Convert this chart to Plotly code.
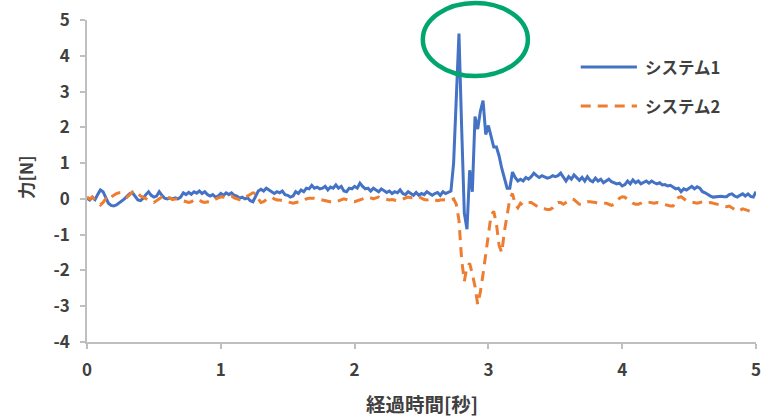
import numpy as np
import plotly.graph_objects as go

# Sampling interval of the force log [s]
DT = 0.02

# System 1 force [N], sampled every 0.02 s from 0.00 s
sys1_base = [
    0.02, -0.03, 0.05, -0.02, 0.12, 0.25, 0.2, 0.02, -0.12, -0.18,
    -0.2, -0.17, -0.12, -0.05, 0.0, 0.08, 0.15, 0.17, 0.05, -0.03,
    -0.05, 0.02, 0.12, 0.2, 0.1, 0.05, 0.08, 0.2, 0.1, 0.02,
    0.0, 0.02, 0.0, 0.03, 0.0, 0.05, 0.17, 0.12, 0.18, 0.13,
    0.2, 0.16, 0.22, 0.15, 0.2, 0.12, 0.08, 0.12, 0.05, 0.08,
    0.15, 0.1, 0.17, 0.12, 0.17, 0.1, 0.08, 0.02, 0.05, 0.0,
    0.03, -0.05, -0.08, 0.05, 0.22, 0.27, 0.22, 0.3, 0.25, 0.2,
    0.15, 0.2, 0.17, 0.22, 0.12, 0.1, 0.05, 0.08, 0.2, 0.15,
    0.25, 0.2, 0.3, 0.28, 0.38, 0.3, 0.33, 0.28, 0.3, 0.35,
    0.25, 0.33, 0.3, 0.39, 0.3, 0.35, 0.22, 0.2, 0.3, 0.28,
    0.35, 0.3, 0.44, 0.35, 0.28, 0.3, 0.22, 0.3, 0.25, 0.2,
    0.28, 0.22, 0.18, 0.22, 0.15, 0.2, 0.17, 0.25, 0.15, 0.12,
    0.2, 0.15, 0.1, 0.18, 0.1, 0.15, 0.12, 0.2, 0.15, 0.1,
    0.15, 0.18, 0.1, 0.2, 0.15, 0.18,
]
sys1_impact = [
    0.22, 1.0, 3.0, 4.62, 2.0, -0.4, -0.85, 0.8, 0.2, 2.3,
    1.95, 2.45, 2.75, 1.8, 2.05, 1.75, 1.45, 1.45, 1.2, 0.85,
    0.6, 0.3, 0.3, 0.75, 0.6, 0.5,
]
sys1_tail = [
    0.55, 0.5, 0.6, 0.55, 0.62, 0.72, 0.65, 0.6, 0.65, 0.62,
    0.58, 0.6, 0.65, 0.62, 0.65, 0.72, 0.6, 0.5, 0.62, 0.55,
    0.67, 0.58, 0.52, 0.6, 0.5, 0.62, 0.52, 0.48, 0.58, 0.5,
    0.55, 0.45, 0.5, 0.55, 0.48, 0.45, 0.42, 0.44,
    0.36, 0.4, 0.5, 0.42, 0.53, 0.45, 0.5, 0.42, 0.46, 0.5,
    0.44, 0.5, 0.45, 0.42, 0.45, 0.39, 0.4, 0.36, 0.38, 0.34,
    0.28, 0.3, 0.2, 0.28, 0.25, 0.3, 0.35, 0.28, 0.34, 0.3,
    0.2, 0.17, 0.12, 0.08, 0.05, 0.06, 0.05, 0.07, 0.06, 0.06,
    0.12, 0.14, 0.08, 0.05, 0.1, 0.14, 0.08, 0.14, 0.07, 0.05,
    0.2,
]

# System 2 force [N], same sampling
sys2_base = [
    0.05, 0.0, 0.05, -0.05, -0.12, -0.17, -0.1, 0.0, -0.05, 0.05,
    0.1, 0.15, 0.17, 0.17, 0.1, 0.05, 0.12, 0.2, 0.23, 0.15,
    0.08, 0.05, 0.0, -0.05, -0.08, -0.1, -0.05, 0.02, 0.05, 0.0,
    0.05, 0.02, -0.02, 0.0, 0.0, -0.03, -0.05, -0.08, -0.1, -0.08,
    -0.03, -0.05, -0.03, -0.08, -0.1, -0.08, -0.1, -0.05, 0.0, 0.03,
    0.05, 0.05, 0.02, 0.05, 0.08, 0.03, 0.0, -0.02, 0.0, 0.02,
    0.08, 0.12, 0.17, 0.15, 0.0, -0.1, -0.08, -0.02, 0.02, 0.05,
    0.0, -0.03, -0.03, -0.05, -0.08, -0.1, -0.12, -0.12, -0.1, -0.1,
    -0.08, -0.05, 0.0, 0.02, 0.03, 0.02, 0.0, -0.02, -0.03, -0.05,
    -0.08, -0.1, -0.1, -0.08, -0.05, -0.02, 0.0, -0.02, -0.05, -0.08,
    -0.08, -0.05, -0.02, 0.0, 0.02, 0.05, 0.03, 0.0, 0.03, 0.05,
    0.02, 0.0, -0.02, -0.03, -0.02, -0.03, -0.05, -0.03, 0.0, 0.02,
    0.05, 0.03, 0.05, 0.03, 0.05, 0.02, -0.02, -0.03, -0.02, 0.0,
    -0.03, -0.05, -0.03, -0.02, -0.03, -0.02, -0.03,
]
sys2_impact = [
    0.0, -0.15, -0.6, -1.7, -2.3, -1.9, -1.8, -2.1, -2.45, -2.95,
    -2.6, -2.1, -1.5, -0.9, -0.45, -0.35, -0.7, -1.3, -1.5, -0.9,
    -0.45, 0.0, 0.15, -0.15, -0.25,
]
sys2_tail = [
    -0.12, -0.18, -0.15, -0.1, -0.1, -0.15, -0.2, -0.25, -0.25, -0.28,
    -0.3, -0.3, -0.25, -0.15, -0.1, -0.1, -0.15, -0.1, -0.05, 0.0,
    -0.02, -0.1, -0.15, -0.15, -0.12, -0.08, -0.08, -0.08, -0.1, -0.12,
    -0.12, -0.1, -0.12, -0.15, -0.18, -0.15, -0.05, 0.02,
    0.06, 0.05, -0.02, -0.08, -0.12, -0.15, -0.15, -0.12, -0.08, -0.08,
    -0.1, -0.1, -0.12, -0.1, -0.12, -0.15, -0.15, -0.18, -0.2, -0.2,
    -0.08, 0.04, 0.06, 0.0, -0.05, -0.08, -0.1, -0.1, -0.12, -0.1,
    -0.08, -0.1, -0.12, -0.1, -0.12, -0.15, -0.18, -0.18, -0.2, -0.22,
    -0.2, -0.25, -0.3, -0.35, -0.32, -0.28, -0.3, -0.32, -0.35, -0.38,
    -0.35,
]

series_names = ["システム1", "システム2"]
x_ticks = [0, 1, 2, 3, 4, 5]
y_ticks = [-4, -3, -2, -1, 0, 1, 2, 3, 4, 5]
y_tick_labels = ["-4", "-3", "-2", "-1", "0", "1", "2", "3", "4", "5"]

sys1 = sys1_base + sys1_impact + sys1_tail
sys2 = sys2_base + sys2_impact + sys2_tail
t1 = np.arange(len(sys1)) * DT
t2 = np.arange(len(sys2)) * DT

BLUE = "#4472C4"
ORANGE = "#ED7D31"
TEXT = "#404040"
AXIS = "#BFBFBF"
FONT = "Noto Sans CJK JP"
WEIGHT = 700

fig = go.Figure()
fig.add_trace(go.Scatter(x=t1, y=sys1, mode="lines", name=series_names[0],
                         line=dict(color=BLUE, width=3)))
fig.add_trace(go.Scatter(x=t2, y=sys2, mode="lines", name=series_names[1],
                         line=dict(color=ORANGE, width=3, dash="10px,7px")))

axis_common = dict(showgrid=False, zeroline=False, showline=True,
                   linecolor=AXIS, linewidth=1.5, ticks="outside",
                   ticklen=5, tickwidth=1.5, tickcolor=AXIS,
                   ticklabelstandoff=7, automargin=False,
                   tickfont=dict(family=FONT, size=17, color=TEXT,
                                 weight=WEIGHT))

fig.update_xaxes(range=[0, 5], tickvals=x_ticks, **axis_common)
fig.update_yaxes(range=[-4, 5], tickvals=y_ticks, ticktext=y_tick_labels,
                 **axis_common)

# Highlight around the impact peak
fig.add_shape(type="circle", xref="paper", yref="paper",
              x0=0.502, x1=0.659, y0=0.826, y1=1.053,
              line=dict(color="#00A66E", width=4.5))

# Legend drawn by hand (long sample lines)
legend_rows = [(series_names[0], BLUE, "solid", 0.854),
               (series_names[1], ORANGE, "10px,7px", 0.733)]
for name, color, dash, yy in legend_rows:
    fig.add_shape(type="line", xref="paper", yref="paper",
                  x0=0.738, x1=0.822, y0=yy, y1=yy,
                  line=dict(color=color, width=3, dash=dash))
    fig.add_annotation(xref="paper", yref="paper", x=0.831, y=yy,
                       text=name, showarrow=False, xanchor="left",
                       yanchor="middle",
                       font=dict(family=FONT, size=16.5, color=TEXT,
                                 weight=WEIGHT))

# Axis titles
fig.add_annotation(xref="paper", yref="paper", x=0.5, y=-0.19,
                   text="経過時間[秒]", showarrow=False,
                   xanchor="center", yanchor="middle",
                   font=dict(family=FONT, size=19.5, color=TEXT,
                             weight=WEIGHT))
fig.add_annotation(xref="paper", yref="paper", x=-0.0927, y=0.512,
                   text="力[N]", showarrow=False, textangle=-90,
                   xanchor="center", yanchor="middle",
                   font=dict(family=FONT, size=17.5, color=TEXT,
                             weight=WEIGHT))

fig.update_layout(width=762, height=417,
                  margin=dict(l=87, r=6, t=20, b=75),
                  paper_bgcolor="white", plot_bgcolor="white",
                  showlegend=False,
                  font=dict(family=FONT, color=TEXT))

fig.write_html("out.html")
